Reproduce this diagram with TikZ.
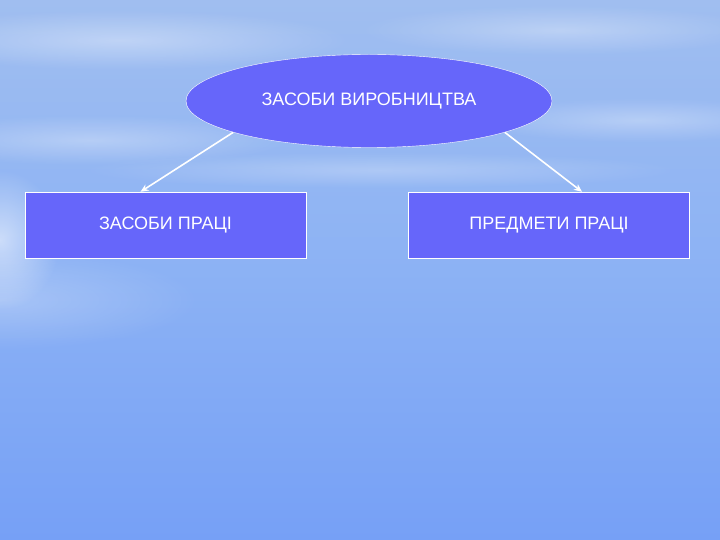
\documentclass[tikz,border=0pt]{standalone}
\usepackage{fontspec}
\setmainfont{Liberation Sans}
\usetikzlibrary{shapes.geometric,arrows.meta,calc,fadings}
\definecolor{skytop}{RGB}{160,190,240}
\definecolor{skymid}{RGB}{140,178,244}
\definecolor{seabot}{RGB}{118,160,246}
\definecolor{boxblue}{RGB}{102,102,250}
\tikzset{>=Stealth}
\tikzfading[name=glow, inner color=transparent!0, outer color=transparent!100]
\tikzset{
  topic/.style={ellipse, draw=white, thin, fill=boxblue, minimum width=366pt,
    minimum height=93pt, inner sep=0pt, text=white, font=\fontsize{18}{21}\selectfont},
  part/.style={rectangle, draw=white, thin, fill=boxblue, minimum width=281pt,
    minimum height=66pt, inner sep=0pt, text=white, font=\fontsize{18}{21}\selectfont},
  link/.style={draw=white, line width=1.6pt, -{Stealth[length=8pt,width=7pt]}}
}

\begin{document}
\begin{tikzpicture}[x=1pt,y=-1pt]
\useasboundingbox (0,0) rectangle (720,540);

% sky and sea
\shade[top color=skytop, bottom color=seabot, middle color=skymid] (0,0) rectangle (720,540);
\fill[white, opacity=0.55, path fading=glow] (0,240) ellipse (60pt and 70pt);
\fill[white, opacity=0.25, path fading=glow] (0,300) ellipse (200pt and 50pt);
\foreach \cx/\cy/\rx/\ry/\op in {120/40/230/30/0.35, 560/30/200/25/0.3, 640/120/170/22/0.3,
  90/140/200/25/0.3, 380/170/300/18/0.25}
  \fill[white, opacity=\op, path fading=glow] (\cx,\cy) ellipse (\rx pt and \ry pt);

% nodes
\node[topic] (means) at (369,101) {ЗАСОБИ ВИРОБНИЦТВА};
\node[part] (tools) at (165.5,225) {ЗАСОБИ ПРАЦІ};
\node[part] (objects) at (549,225) {ПРЕДМЕТИ ПРАЦІ};

% arrows
\draw[link] (means.193) -- ($(tools.north)+(-25,0)$);
\draw[link] (means.-13) -- ($(objects.north)+(33,0)$);
\end{tikzpicture}
\end{document}
